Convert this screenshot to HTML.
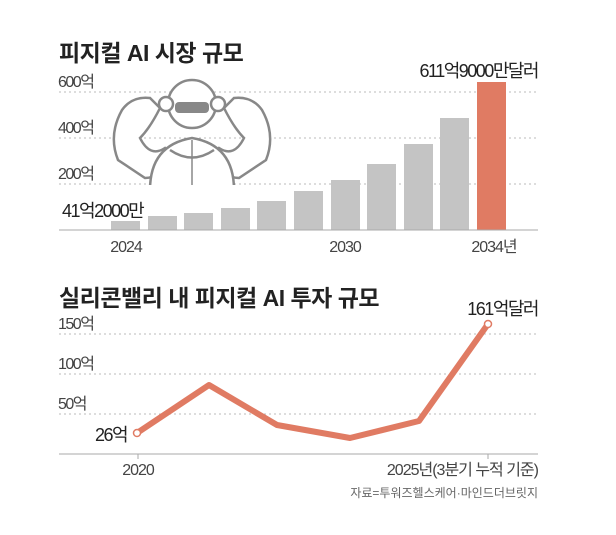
<!DOCTYPE html><html><head><meta charset="utf-8"><style>
html,body{margin:0;padding:0;background:#fff}
svg text{font-family:"Liberation Sans","Noto Sans CJK KR",sans-serif}
</style></head><body>
<svg width="616" height="530" viewBox="0 0 616 530" xmlns="http://www.w3.org/2000/svg">
<text x="59" y="61" font-size="23" font-weight="bold" fill="#222" letter-spacing="-0.5">피지컬 AI 시장 규모</text>
<g stroke="#bbb" stroke-dasharray="2,3" stroke-width="1">
<line x1="59" y1="92" x2="538" y2="92"/><line x1="59" y1="138" x2="538" y2="138"/><line x1="59" y1="184" x2="538" y2="184"/>
</g>
<g font-size="16" fill="#444" letter-spacing="-1.5">
<text x="58" y="87">600억</text><text x="58" y="133">400억</text><text x="58" y="179">200억</text>
</g>
<!-- robot -->
<g fill="#fff" stroke="#888" stroke-width="2.5">
<path d="M118 160 Q108 135 122 110 Q132 96 150 98 L160 108 Q150 128 140 138 Q150 158 165 148 L175 158 Q160 178 145 178 Z"/>
<path d="M266 160 Q276 135 262 110 Q252 96 234 98 L224 108 Q234 128 244 138 Q234 158 219 148 L209 158 Q224 178 239 178 Z"/>
<path d="M150 190 Q150 145 192 138 Q234 145 234 190 Z"/>
<path d="M170 150 Q192 165 214 150" fill="none"/>
<path d="M192 140 L192 190" fill="none" stroke-width="1.5"/>
<circle cx="192" cy="104" r="24"/>
<circle cx="166" cy="104" r="7"/><circle cx="218" cy="104" r="7"/>
</g>
<rect x="175" y="102" width="34" height="11" rx="4" fill="#888"/>
<rect x="59" y="185" width="210" height="8" fill="#fff"/>
<g fill="#c4c4c4">
<rect x="111" y="221" width="29" height="9"/><rect x="148" y="216" width="29" height="14"/><rect x="184" y="213" width="29" height="17"/><rect x="221" y="208" width="29" height="22"/><rect x="257" y="201" width="29" height="29"/><rect x="294" y="191" width="29" height="39"/><rect x="331" y="180" width="29" height="50"/><rect x="367" y="164" width="29" height="66"/><rect x="404" y="144" width="29" height="86"/><rect x="440" y="118" width="29" height="112"/>
</g>
<rect x="477" y="82" width="29" height="148" fill="#e07b63"/>
<line x1="59" y1="230" x2="538" y2="230" stroke="#aaa" stroke-width="1"/>
<text x="62" y="217" font-size="18" fill="#222" letter-spacing="-1.5">41억2000만</text>
<text x="538" y="77" font-size="18" fill="#222" text-anchor="end" letter-spacing="-1.5">611억9000만달러</text>
<g font-size="16" fill="#444" letter-spacing="-1">
<text x="126" y="252" text-anchor="middle">2024</text><text x="345" y="252" text-anchor="middle">2030</text><text x="494" y="252" text-anchor="middle">2034년</text>
</g>
<text x="59" y="306" font-size="23" font-weight="bold" fill="#222" letter-spacing="-0.5">실리콘밸리 내 피지컬 AI 투자 규모</text>
<g stroke="#bbb" stroke-dasharray="2,3" stroke-width="1">
<line x1="59" y1="334" x2="538" y2="334"/><line x1="59" y1="374" x2="538" y2="374"/><line x1="59" y1="414" x2="538" y2="414"/>
</g>
<g font-size="16" fill="#444" letter-spacing="-1.5">
<text x="58" y="329">150억</text><text x="58" y="369">100억</text><text x="58" y="409">50억</text>
</g>
<line x1="59" y1="454" x2="538" y2="454" stroke="#aaa"/>
<line x1="138" y1="454" x2="138" y2="459" stroke="#aaa"/><line x1="488" y1="454" x2="488" y2="459" stroke="#aaa"/>
<polyline points="137,433 209,385 277,425 350,438 419,421 488,324" fill="none" stroke="#e07b63" stroke-width="6" stroke-linejoin="round"/>
<circle cx="137" cy="433" r="3.5" fill="#fff" stroke="#e07b63" stroke-width="1.5"/>
<circle cx="488" cy="324" r="3.5" fill="#fff" stroke="#e07b63" stroke-width="1.5"/>
<text x="95" y="441" font-size="18" fill="#222" letter-spacing="-1.5">26억</text>
<text x="538" y="315" font-size="18" fill="#222" text-anchor="end" letter-spacing="-1.5">161억달러</text>
<g font-size="16" fill="#444" letter-spacing="-1">
<text x="138" y="475" text-anchor="middle">2020</text><text x="538" y="475" text-anchor="end">2025년(3분기 누적 기준)</text>
</g>
<text x="538" y="497" font-size="12" fill="#666" text-anchor="end">자료=투워즈헬스케어·마인드더브릿지</text>
</svg>
</body></html>
